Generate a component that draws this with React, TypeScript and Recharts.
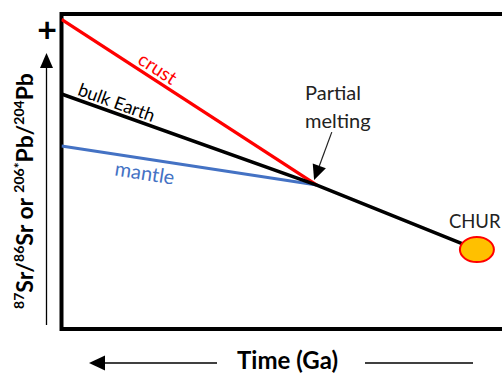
import React from 'react';
import {
  ComposedChart,
  Line,
  Scatter,
  XAxis,
  YAxis,
  ReferenceArea,
  ReferenceDot,
  ReferenceLine,
} from 'recharts';

// Schematic time positions (left = older, right = present) and isotope ratios (arbitrary units)
const timeSteps = [0, 56.3, 91.6];
const crustRatio = [98.3, 45.7];
const bulkEarthRatio = [74.6, 45.7, 25.2];
const mantleRatio = [58.1, 45.7];
const churPoint = [{ t: 91.6, ratio: 25.2 }];
const meltingPoint = { t: 56.3, ratio: 45.7 };

const toSeries = (values: number[]) => values.map((ratio, i) => ({ t: timeSteps[i], ratio }));

const crustData = toSeries(crustRatio);
const bulkEarthData = toSeries(bulkEarthRatio);
const mantleData = toSeries(mantleRatio);

const FONT = "Lato, 'Open Sans', 'DejaVu Sans', sans-serif";
const RED = '#FF0000';
const BLUE = '#4472C4';

const rotatedLabel = (text: string, color: string, angle: number, size: number) => (p: any) => (
  <text
    x={p.cx}
    y={p.cy}
    transform={`rotate(${angle} ${p.cx} ${p.cy})`}
    textAnchor="middle"
    dominantBaseline="central"
    fill={color}
    fontSize={size}
    fontFamily={FONT}
  >
    {text}
  </text>
);

const ChurShape = (p: any) => (
  <g>
    <text x={p.cx - 28} y={p.cy - 22} fontSize={18.5} fontFamily={FONT} fill="#222">
      CHUR
    </text>
    <ellipse cx={p.cx} cy={p.cy} rx={17} ry={12.5} fill="#FFC000" stroke={RED} strokeWidth={2} />
  </g>
);

const MeltingArrow = (p: any) => {
  const { x1, y1, x2, y2 } = p;
  const dx = x2 - x1;
  const dy = y2 - y1;
  const len = Math.sqrt(dx * dx + dy * dy);
  const ux = dx / len;
  const uy = dy / len;
  const headLen = 15;
  const headHalf = 7;
  const bx = x2 - ux * headLen;
  const by = y2 - uy * headLen;
  return (
    <g>
      <line x1={x1} y1={y1} x2={bx} y2={by} stroke="#222" strokeWidth={1.2} />
      <polygon
        points={`${x2},${y2} ${bx - uy * headHalf},${by + ux * headHalf} ${bx + uy * headHalf},${by - ux * headHalf}`}
        fill="#000"
      />
    </g>
  );
};

export default function App() {
  return (
    <div
      style={{
        position: 'fixed',
        left: 0,
        top: 0,
        width: 502,
        height: 373,
        overflow: 'hidden',
        background: '#fff',
      }}
    >
      <ComposedChart
        width={502}
        height={373}
        margin={{ top: 14, left: 61.5, right: -13, bottom: 44 }}
      >
        <XAxis type="number" dataKey="t" domain={[0, 100]} hide allowDataOverflow />
        <YAxis type="number" dataKey="ratio" domain={[0, 100]} hide allowDataOverflow />

        <Line
          data={mantleData}
          dataKey="ratio"
          type="linear"
          stroke={BLUE}
          strokeWidth={3}
          dot={false}
          activeDot={false}
          isAnimationActive={false}
        />
        <Line
          data={crustData}
          dataKey="ratio"
          type="linear"
          stroke={RED}
          strokeWidth={3.3}
          dot={false}
          activeDot={false}
          isAnimationActive={false}
        />
        <Line
          data={bulkEarthData}
          dataKey="ratio"
          type="linear"
          stroke="#000"
          strokeWidth={3.5}
          dot={false}
          activeDot={false}
          isAnimationActive={false}
        />
        <Scatter data={churPoint} dataKey="ratio" shape={ChurShape} isAnimationActive={false} />

        <ReferenceDot x={21.3} y={82.9} r={0} ifOverflow="visible" shape={rotatedLabel('crust', RED, 33, 19)} />
        <ReferenceDot x={12.2} y={72.1} r={0} ifOverflow="visible" shape={rotatedLabel('bulk Earth', '#000', 20, 18)} />
        <ReferenceDot x={18.4} y={49.8} r={0} ifOverflow="visible" shape={rotatedLabel('mantle', BLUE, 9, 20)} />

        <ReferenceLine
          ifOverflow="visible"
          segment={[
            { x: meltingPoint.t + 3.3, y: meltingPoint.ratio + 16.8 },
            { x: meltingPoint.t - 0.6, y: meltingPoint.ratio + 1.6 },
          ]}
          shape={MeltingArrow}
        />
        <ReferenceDot
          x={meltingPoint.t - 2.6}
          y={meltingPoint.ratio + 27}
          r={0}
          ifOverflow="visible"
          shape={(p: any) => (
            <text x={p.cx} y={p.cy} fontSize={20} fontFamily={FONT} fill="#222">
              <tspan x={p.cx} dy={0}>Partial</tspan>
              <tspan x={p.cx} dy={28}>melting</tspan>
            </text>
          )}
        />

        <ReferenceArea
          x1={0}
          x2={100}
          y1={0}
          y2={100}
          ifOverflow="visible"
          fill="none"
          stroke="#000"
          strokeWidth={4}
        />

        {/* axis decorations outside the plot frame */}
        <g fontFamily={FONT}>
          <text x={47} y={42} textAnchor="middle" fontSize={34} fontWeight="bold" fill="#000">
            +
          </text>
          <line x1={46.5} y1={325} x2={46.5} y2={66} stroke="#000" strokeWidth={1.3} />
          <polygon points="46.5,53 40,68 53,68" fill="#000" />
          <text
            transform="translate(33,191) rotate(-90)"
            textAnchor="middle"
            fontSize={23}
            fontWeight="bold"
            fill="#000"
          >
            <tspan fontSize={14} dy={-9}>87</tspan>
            <tspan dy={9}>Sr/</tspan>
            <tspan fontSize={14} dy={-9}>86</tspan>
            <tspan dy={9}>Sr or </tspan>
            <tspan fontSize={14} dy={-9}>206*</tspan>
            <tspan dy={9}>Pb/</tspan>
            <tspan fontSize={14} dy={-9}>204</tspan>
            <tspan dy={9}>Pb</tspan>
          </text>
          <line x1={104} y1={363} x2={217} y2={363} stroke="#000" strokeWidth={1.3} />
          <polygon points="89,363 105,355.5 105,370.5" fill="#000" />
          <text x={237} y={369} fontSize={24} fontWeight="bold" fill="#000">
            Time (Ga)
          </text>
          <line x1={365} y1={363} x2={473} y2={363} stroke="#000" strokeWidth={1.3} />
        </g>
      </ComposedChart>
    </div>
  );
}
